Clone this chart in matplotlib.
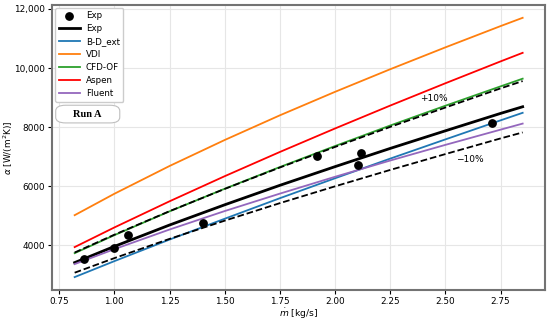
import matplotlib.pyplot as plt
import numpy as np
from matplotlib.patches import FancyBboxPatch
from matplotlib.ticker import FuncFormatter

# experimental points
m_exp = [0.864, 1.00, 1.064, 1.40, 1.92, 2.105, 2.118, 2.71]
a_exp = [3530, 3900, 4340, 4745, 7040, 6715, 7110, 8150]

# model curves
m_line = [0.82, 1.00, 1.25, 1.50, 1.75, 2.00, 2.25, 2.50, 2.75, 2.85]
exp_fit = [3415, 3963, 4687, 5372, 6031, 6663, 7280, 7876, 8465, 8690]
bd_ext = [2925, 3465, 4195, 4900, 5595, 6270, 6935, 7585, 8230, 8485]
vdi = [5020, 5745, 6685, 7565, 8400, 9195, 9960, 10700, 11420, 11700]
cfd_of = [3735, 4345, 5150, 5915, 6650, 7360, 8055, 8725, 9380, 9640]
aspen = [3940, 4605, 5490, 6340, 7160, 7955, 8730, 9485, 10225, 10515]
fluent = [3365, 3870, 4535, 5160, 5750, 6320, 6870, 7400, 7915, 8120]

# +/-10% band around the experimental fit
exp_fit = np.array(exp_fit)
plus10 = exp_fit * 1.1
minus10 = exp_fit * 0.9

plt.rcParams['font.size'] = 6.2
fig, ax = plt.subplots(figsize=(5.5, 3.23), dpi=100)
fig.subplots_adjust(left=0.095, right=0.991, top=0.985, bottom=0.102)

ax.scatter(m_exp, a_exp, s=28, color='black', zorder=5, label='Exp')
ax.plot(m_line, exp_fit, color='black', lw=2, label='Exp')
ax.plot(m_line, bd_ext, color='#1f77b4', lw=1.3, label='B-D_ext')
ax.plot(m_line, vdi, color='#ff7f0e', lw=1.3, label='VDI')
ax.plot(m_line, cfd_of, color='#2ca02c', lw=1.3, label='CFD-OF')
ax.plot(m_line, aspen, color='red', lw=1.3, label='Aspen')
ax.plot(m_line, fluent, color='#9467bd', lw=1.3, label='Fluent')
ax.plot(m_line, plus10, 'k--', lw=1.3)
ax.plot(m_line, minus10, 'k--', lw=1.3)

ax.text(2.45, 8970, '+10%', ha='center', va='center', fontsize=6.5)
ax.text(2.61, 6910, '\u221210%', ha='center', va='center', fontsize=6.5)

ax.set_xlabel(r'$\dot{m}$ [kg/s]', fontsize=6.6, labelpad=1)
ax.set_ylabel(r'$\alpha$ [W/(m$^2$K)]', fontsize=6.4)
ax.yaxis.set_label_coords(-0.076, 0.5)
ax.yaxis.set_major_formatter(FuncFormatter(
    lambda v, p: f'{v:,.0f}' if v >= 10000 else f'{v:.0f}'))
ax.tick_params(length=3, pad=2, labelsize=6.4)
ax.grid(True, color='#e6e6e6', lw=0.8)
for s in ax.spines.values():
    s.set_color('0.45')
    s.set_linewidth(1.5)

leg = ax.legend(loc='upper left', fontsize=6.3, borderaxespad=0.35,
                handlelength=2.4, handletextpad=0.7, labelspacing=0.45,
                framealpha=1)
leg.get_frame().set_edgecolor('0.8')

# "Run A" label box under the legend
box = FancyBboxPatch((0.012, 0.591), 0.12, 0.052, transform=ax.transAxes,
                     boxstyle='round,pad=0.005,rounding_size=0.02',
                     fc='white', ec='0.75', lw=0.8, zorder=6)
ax.add_patch(box)
ax.text(0.071, 0.617, 'Run A', transform=ax.transAxes, ha='center',
        va='center', fontsize=7.5, fontweight='bold', family='Liberation Serif',
        zorder=7)

plt.savefig('out.png')
